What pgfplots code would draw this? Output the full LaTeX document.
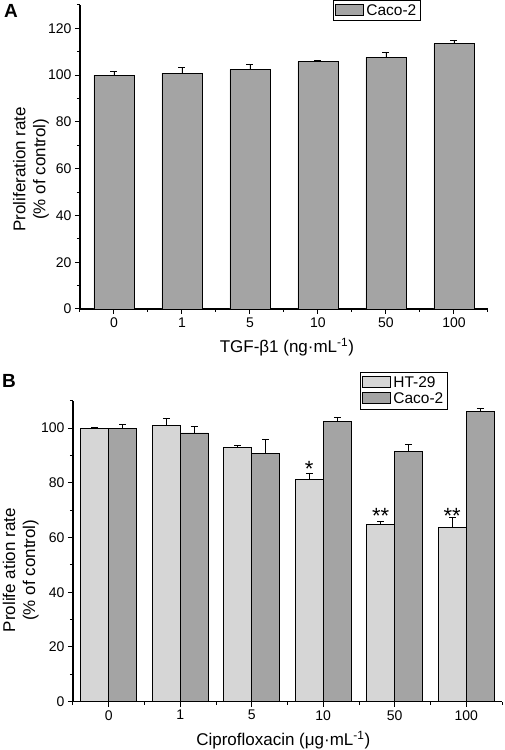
\documentclass[border=0pt]{standalone}
\usepackage{fontspec}
\setmainfont{Liberation Sans}
\usepackage{pgfplots}
\pgfplotsset{compat=1.18}
\definecolor{lgray}{HTML}{D6D6D6}
\definecolor{dgray}{HTML}{A4A4A4}

\pgfplotsset{
 myax/.style={
  scale only axis,
  axis x line*=bottom, axis y line*=left,
  axis line style={line width=1.5pt, -},
  tick align=outside,
  major tick length=5pt, minor tick length=3pt,
  every tick/.style={black, line width=1pt},
  ymin=0,
  xmin=-0.5, xmax=5.5,
  xtick={0,...,5}, xticklabels={0,1,5,10,50,100},
  minor xtick={-0.5,0.5,...,5.5},
  tick label style={font=\fontsize{14}{16}\selectfont},
  label style={font=\fontsize{17}{20}\selectfont},
  /pgf/number format/assume math mode=true,
  legend style={font=\fontsize{15.5}{18}\selectfont, draw=black, line width=0.8pt,
    anchor=north west, inner sep=2pt, row sep=0pt, cells={anchor=west}},
  error bars/y dir=plus, error bars/y explicit,
  error bars/error bar style={line width=0.8pt, black},
  error bars/error mark options={rotate=90, mark size=3.5pt, line width=0.8pt, black},
 },
 myleg/.style={legend image code/.code={\draw[##1, line width=1pt] (0pt,-5pt) rectangle (28pt,6pt);}},
}

\begin{document}
\begin{tikzpicture}
\path[use as bounding box] (0,0) rectangle (505pt,750pt);
\node[font=\fontsize{19}{19}\selectfont\bfseries] at (11pt,739pt) {A};
\node[font=\fontsize{19}{19}\selectfont\bfseries] at (9pt,369pt) {B};

% Panel A
\begin{axis}[myax,
  at={(80pt,441pt)}, anchor=south west,
  width=408pt, height=304pt,
  ymax=130,
  ytick={0,20,...,120}, minor ytick={10,30,...,130},
  ybar, bar width=40pt,
  xlabel={TGF-β1 (ng·mL\textsuperscript{-1})},
  ylabel={Proliferation rate\\(\% of control)},
  xlabel style={at={(axis description cs:0.507,-0.125)}, anchor=center},
  ylabel style={at={(axis description cs:-0.12,0.46)}, anchor=center, align=center},
  legend style={at={(axis description cs:0.62,1.016)}},
]
\addplot[myleg, fill=dgray, draw=black, line width=0.8pt] coordinates {
 (0,100.0) +- (0,1.5)
 (1,100.9) +- (0,2.5)
 (2,102.4) +- (0,2.4)
 (3,105.8) +- (0,0.5)
 (4,107.6) +- (0,2.1)
 (5,113.4) +- (0,1.4)
};
\addlegendentry{Caco-2}
\end{axis}

% Panel B
\begin{axis}[myax,
  at={(73pt,48.3pt)}, anchor=south west,
  width=429pt, height=301pt,
  ymax=110,
  ytick={0,20,...,100}, minor ytick={10,30,...,110},
  ybar=0pt, bar width=28pt,
  xlabel={Ciprofloxacin (μg·mL\textsuperscript{-1})},
  ylabel={Prolife ation rate\\(\% of control)},
  xlabel style={at={(axis description cs:0.49,-0.127)}, anchor=center},
  ylabel style={at={(axis description cs:-0.122,0.437)}, anchor=center, align=center},
  legend style={at={(axis description cs:0.669,1.095)}},
]
\addplot[myleg, fill=lgray, draw=black, line width=0.8pt] coordinates {
 (0,100.0) +- (0,0.3)
 (1,100.9) +- (0,2.7)
 (2,92.8) +- (0,0.7)
 (3,81.2) +- (0,2.4)
 (4,64.7) +- (0,1.3)
 (5,63.8) +- (0,3.4)
};
\addlegendentry{HT-29}
\addplot[myleg, fill=dgray, draw=black, line width=0.8pt] coordinates {
 (0,100.0) +- (0,1.3)
 (1,98.2) +- (0,2.3)
 (2,90.6) +- (0,5.2)
 (3,102.4) +- (0,1.5)
 (4,91.6) +- (0,2.5)
 (5,106.1) +- (0,1.1)
};
\addlegendentry{Caco-2}
\node[font=\fontsize{22}{22}\selectfont, anchor=north, inner sep=0pt] at (axis cs:2.804,87.8) {*};
\node[font=\fontsize{22}{22}\selectfont, anchor=north, inner sep=0pt] at (axis cs:3.804,70.8) {**};
\node[font=\fontsize{22}{22}\selectfont, anchor=north, inner sep=0pt] at (axis cs:4.804,70.8) {**};
\end{axis}
\end{tikzpicture}
\end{document}
